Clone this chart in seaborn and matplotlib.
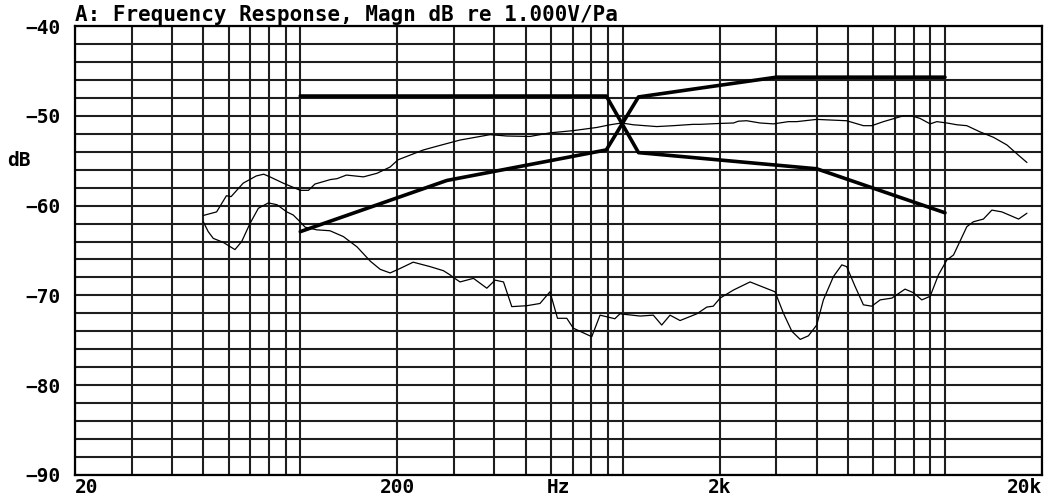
"""Frequency response plot with crossover slopes."""

import matplotlib

matplotlib.use("Agg")
import matplotlib.pyplot as plt
import seaborn as sns

# on-axis response (thin, upper)
upper_f = [50, 55, 59, 61, 66.5, 73, 77, 80.5, 88.5, 100, 106, 111, 124, 130,
           139, 157, 173, 190, 201, 241, 271, 313, 388, 437, 516, 595, 703,
           831, 914, 993, 1079, 1276, 1436, 1657, 1739, 2006, 2208, 2286, 2427,
           2669, 2937, 3268, 3469, 4000, 4956, 5584, 5929, 6443, 7431, 7890,
           8377, 8994, 9436, 10140, 10890, 11690, 12860, 14150, 15570, 16920,
           17960]
upper_db = [-61.1, -60.7, -58.9, -59.0, -57.5, -56.7, -56.5, -56.8, -57.5,
            -58.3, -58.3, -57.6, -57.1, -57.0, -56.6, -56.8, -56.4, -55.7,
            -54.9, -53.8, -53.3, -52.7, -52.1, -52.25, -52.3, -51.9, -51.65,
            -51.3, -51.0, -50.8, -51.0, -51.2, -51.1, -50.95, -50.95, -50.85,
            -50.8, -50.6, -50.55, -50.8, -50.9, -50.65, -50.65, -50.4, -50.55,
            -51.1, -51.1, -50.65, -50.0, -50.0, -50.3, -50.9, -50.65, -50.8,
            -51.0, -51.1, -51.8, -52.4, -53.25, -54.4, -55.2]

# second response (thin, lower)
lower_f = [50, 51.8, 53.7, 57.7, 62.7, 65.8, 69.8, 74.1, 79.6, 84.6, 90.8,
           95.1, 99.8, 103.5, 112.5, 123.6, 136, 150, 165, 177, 190, 204, 224,
           253, 278, 291, 298.5, 313, 344.5, 379, 402, 427, 453, 504, 554, 595,
           628, 671, 703, 802, 851, 946, 981, 1133, 1245, 1322, 1403, 1507,
           1699, 1825, 1911, 2006, 2208, 2485, 2970, 3155, 3350, 3556, 3770,
           4000, 4196, 4508, 4786, 4956, 5262, 5584, 5929, 6294, 6843, 7519,
           7981, 8474, 8994, 9549, 10140, 10630, 11690, 12250, 13160, 13980,
           15010, 16920, 17960]
lower_db = [-61.8, -62.9, -63.65, -64.1, -64.9, -64.0, -62.0, -60.3, -59.7,
            -59.9, -60.7, -61.05, -61.8, -62.4, -62.7, -62.8, -63.45, -64.6,
            -66.2, -67.1, -67.5, -67.0, -66.3, -66.8, -67.25, -67.7, -68.0,
            -68.5, -68.1, -69.2, -68.3, -68.5, -71.25, -71.15, -70.9, -69.6,
            -72.55, -72.55, -73.65, -74.6, -72.2, -72.6, -72.05, -72.3, -72.2,
            -73.3, -72.2, -72.8, -72.05, -71.3, -71.2, -70.3, -69.4, -68.5,
            -69.6, -72.0, -74.0, -74.9, -74.5, -73.3, -70.5, -67.9, -66.6,
            -66.8, -69.0, -71.05, -71.2, -70.5, -70.3, -69.3, -69.7, -70.5,
            -70.1, -67.7, -66.05, -65.5, -62.35, -61.8, -61.5, -60.5, -60.7,
            -61.5, -60.85]

# crossover target slopes (thick)
lowpass_f = [100, 890, 1120, 4000, 10000]
lowpass_db = [-47.8, -47.8, -54.1, -55.9, -60.8]
highpass_f = [100, 285, 890, 1120, 3000, 10000]
highpass_db = [-62.9, -57.2, -53.8, -47.9, -45.7, -45.7]

grid_freqs = [20, 30, 40, 50, 60, 70, 80, 90, 100, 200, 300, 400, 500, 600,
              700, 800, 900, 1000, 2000, 3000, 4000, 5000, 6000, 7000, 8000,
              9000, 10000, 20000]
x_labels = {20: "20", 200: "200", 2000: "2k", 20000: "20k"}
y_grid = list(range(-90, -39, 2))

sns.set_style("white")
plt.rcParams["font.family"] = ["DejaVu Sans Mono"]
plt.rcParams["font.weight"] = "bold"
plt.rcParams["text.color"] = "black"

fig = plt.figure(figsize=(10.46, 4.96), dpi=100)
ax = fig.add_axes([75 / 1046, 1 - 475 / 496, 967 / 1046, 449 / 496])
ax.set_xscale("log")

for f, db in [(upper_f, upper_db), (lower_f, lower_db)]:
    sns.lineplot(x=f, y=db, ax=ax, color="black", lw=0.9, estimator=None)
for f, db in [(lowpass_f, lowpass_db), (highpass_f, highpass_db)]:
    sns.lineplot(x=f, y=db, ax=ax, color="black", lw=2.6, estimator=None)

ax.set_xlim(20, 20000)
ax.set_ylim(-90, -40)
ax.set_xticks(grid_freqs)
ax.set_xticklabels([x_labels.get(f, "") for f in grid_freqs])
ax.minorticks_off()
ax.set_yticks(y_grid)
ax.set_yticklabels(["\u2212%d" % -v if v % 10 == 0 else "" for v in y_grid])
ax.grid(True, color="#1e1e1e", lw=1.5)
ax.tick_params(axis="both", length=0, labelsize=14, colors="black")
ax.tick_params(axis="x", pad=2)
ax.tick_params(axis="y", pad=10)
xt = ax.get_xticklabels()
xt[0].set_ha("left")
xt[-1].set_ha("right")
for s in ax.spines.values():
    s.set_color("black")
    s.set_linewidth(1.6)

ax.annotate("Hz", xy=(0.5, 0), xycoords="axes fraction", xytext=(0, -2),
            textcoords="offset points", ha="center", va="top", fontsize=14,
            color="black")
fig.text(75 / 1046, 1 - 21 / 496, "A: Frequency Response, Magn dB re 1.000V/Pa",
         ha="left", va="baseline", fontsize=15, color="black")
fig.text(7 / 1046, 1 - 161 / 496, "dB", ha="left", va="center", fontsize=14,
         color="black")

fig.savefig("out.png", dpi=100)
